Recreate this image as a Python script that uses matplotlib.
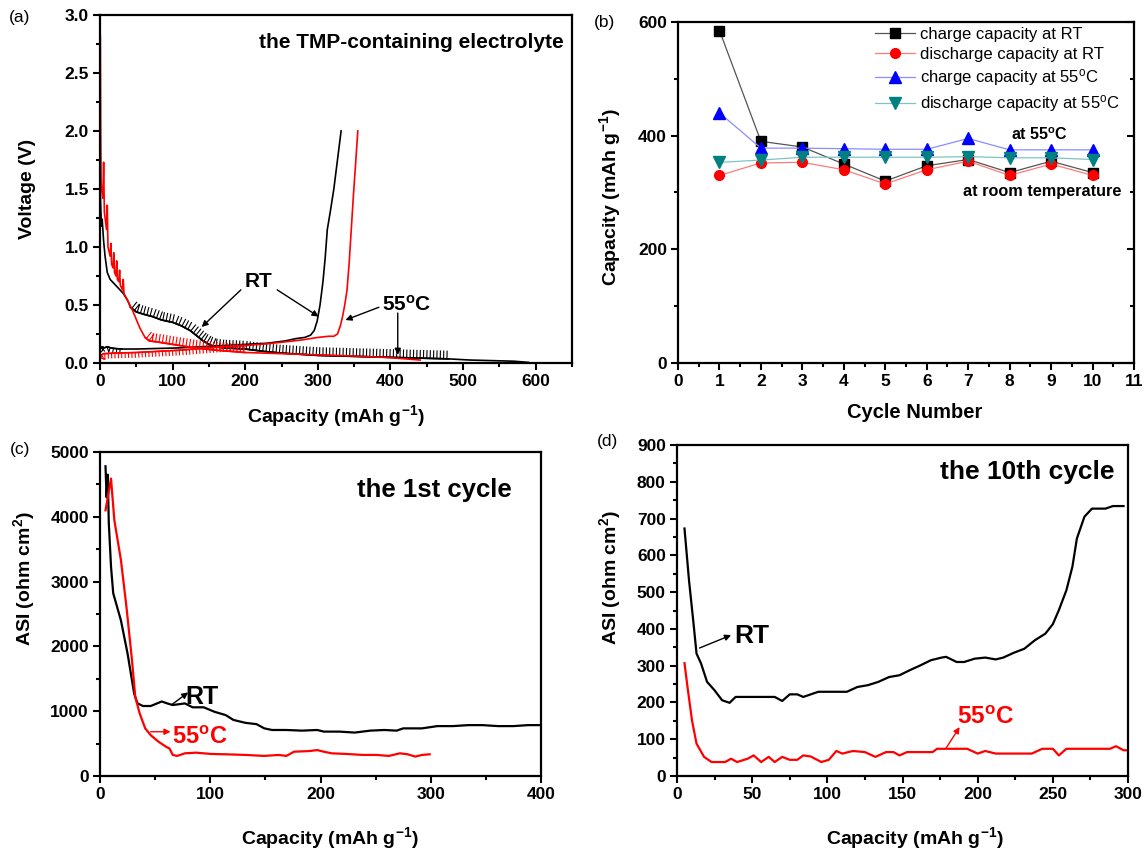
import numpy as np
import matplotlib
matplotlib.use("Agg")
import matplotlib.pyplot as plt
from matplotlib import patheffects as pe
from matplotlib.ticker import MultipleLocator

plt.rcParams['font.family'] = ['Liberation Sans', 'DejaVu Sans']
plt.rcParams['mathtext.fontset'] = 'custom'
plt.rcParams['mathtext.rm'] = 'Liberation Sans'
plt.rcParams['mathtext.bf'] = 'Liberation Sans:bold'
plt.rcParams['mathtext.it'] = 'Liberation Sans:italic'

# ---- (a) first-cycle voltage profiles ----
rt_dis_x = [0, 1, 2, 3, 5, 7, 10, 14, 20, 26, 32, 38, 42, 50, 60, 72, 85, 100, 112, 124,
            134, 142, 150, 158, 170, 185, 200, 225, 250, 275, 300, 330, 360, 390, 420,
            450, 480, 510, 540, 570, 590]
rt_dis_y = [1.57, 1.35, 1.18, 1.24, 1.05, 0.92, 0.78, 0.72, 0.68, 0.64, 0.60, 0.54, 0.48,
            0.44, 0.42, 0.40, 0.37, 0.35, 0.32, 0.28, 0.23, 0.19, 0.16, 0.14, 0.13, 0.125,
            0.12, 0.10, 0.085, 0.075, 0.065, 0.06, 0.055, 0.05, 0.045, 0.04, 0.035, 0.025,
            0.02, 0.015, 0.005]
rt_chg_x = [0, 3, 6, 10, 15, 20, 30, 50, 80, 110, 140, 170, 200, 230, 255, 270, 282, 290,
            295, 299, 303, 307, 310, 313, 317, 322, 327, 332]
rt_chg_y = [0.12, 0.14, 0.13, 0.14, 0.13, 0.125, 0.12, 0.12, 0.125, 0.13, 0.14, 0.15, 0.16,
            0.17, 0.19, 0.21, 0.22, 0.24, 0.28, 0.36, 0.50, 0.70, 0.90, 1.15, 1.30, 1.50,
            1.75, 2.0]
ht_dis_x = [0.5, 1, 1.5, 2, 4, 5, 6, 9, 10, 11, 14, 15, 16, 18, 19, 20, 22, 23, 24, 26, 27,
            28, 31, 32, 33, 37, 45, 55, 62, 68, 80, 100, 130, 160, 200, 250, 300, 350, 400,
            441]
ht_dis_y = [2.82, 2.0, 1.6, 1.5, 1.42, 1.73, 1.30, 1.15, 1.36, 1.00, 0.92, 1.03, 0.85, 0.82,
            0.95, 0.78, 0.75, 0.88, 0.72, 0.70, 0.80, 0.67, 0.63, 0.72, 0.60, 0.55, 0.45,
            0.30, 0.22, 0.19, 0.18, 0.16, 0.13, 0.11, 0.09, 0.08, 0.07, 0.06, 0.045, 0.025]
ht_chg_x = [0, 2, 5, 20, 50, 80, 110, 140, 170, 200, 230, 260, 280, 300, 315, 322, 327, 331,
            334, 337, 340, 343, 346, 349, 352, 355]
ht_chg_y = [0.03, 0.07, 0.08, 0.085, 0.09, 0.10, 0.11, 0.125, 0.14, 0.15, 0.165, 0.185, 0.20,
            0.22, 0.23, 0.23, 0.25, 0.32, 0.40, 0.50, 0.62, 0.85, 1.15, 1.45, 1.72, 2.0]

# ---- (b) cycling ----
cycles = [1, 2, 3, 4, 5, 6, 7, 8, 9, 10]
chg_rt = [585, 390, 380, 350, 320, 347, 358, 335, 355, 335]
dis_rt = [330, 352, 353, 340, 315, 340, 355, 330, 350, 330]
chg_55 = [440, 378, 378, 377, 376, 376, 395, 375, 375, 375]
dis_55 = [353, 357, 362, 362, 362, 362, 363, 361, 361, 358]

# ---- (c) ASI, 1st cycle ----
asi1_rt_x = [5, 6, 7, 8, 10, 12, 19, 25, 31, 34, 39, 46, 56, 61, 66, 77, 84, 94, 104, 114,
             121, 132, 142, 149, 156, 169, 183, 197, 203, 217, 231, 245, 258, 269, 275,
             292, 306, 320, 334, 347, 361, 375, 388, 400]
asi1_rt_y = [4780, 4300, 4650, 3900, 3230, 2820, 2400, 1890, 1270, 1120, 1080, 1080, 1150,
             1120, 1095, 1120, 1060, 1060, 990, 940, 865, 820, 800, 735, 710, 710, 700, 710,
             685, 685, 670, 700, 710, 700, 735, 735, 770, 770, 785, 785, 770, 770, 785, 785]
asi1_55_x = [5, 10, 13, 19, 24, 29, 32, 36, 41, 46, 53, 60, 63, 66, 70, 77, 87, 101, 114,
             132, 149, 162, 169, 176, 190, 197, 203, 210, 224, 238, 251, 262, 272, 279,
             286, 292, 299]
asi1_55_y = [4100, 4590, 3950, 3330, 2610, 1790, 1220, 965, 735, 630, 530, 450, 425, 325,
             310, 350, 360, 340, 335, 325, 310, 325, 310, 375, 385, 400, 375, 350, 340, 325,
             325, 310, 350, 335, 300, 325, 335]

# ---- (d) ASI, 10th cycle ----
asi10_rt_x = [5, 8, 11, 13, 16, 20, 25, 30, 35, 39, 61, 65, 70, 75, 80, 84, 94, 108, 113,
              120, 127, 134, 141, 148, 155, 162, 169, 176, 179, 186, 191, 198, 205, 212,
              217, 224, 231, 238, 245, 250, 254, 259, 263, 266, 271, 276, 285, 290, 297]
asi10_rt_y = [673, 532, 415, 333, 306, 256, 233, 206, 199, 215, 215, 215, 204, 222, 222,
              215, 229, 229, 229, 242, 247, 256, 269, 274, 288, 301, 315, 322, 324, 310,
              310, 319, 322, 317, 322, 335, 346, 369, 387, 413, 451, 505, 569, 646, 705,
              727, 727, 734, 734]
asi10_55_x = [5, 7, 10, 13, 18, 23, 32, 36, 40, 47, 51, 56, 61, 65, 70, 75, 80, 84, 89, 96,
              101, 106, 110, 117, 125, 132, 139, 144, 148, 153, 170, 173, 193, 200, 205,
              212, 236, 243, 250, 254, 259, 288, 292, 297, 300]
asi10_55_y = [307, 242, 151, 88, 52, 38, 38, 47, 38, 47, 56, 38, 52, 38, 52, 44, 44, 56, 53,
              38, 44, 68, 61, 68, 65, 52, 65, 65, 56, 65, 65, 74, 74, 61, 68, 61, 61, 74, 74,
              56, 74, 74, 81, 70, 70]

DEG_B = r'55$^{\mathbf{o}}$C'
DEG = r'55$^{\rm o}$C'
CAP_LABEL = r'Capacity (mAh g$^{\mathbf{-1}}$)'
ASI_LABEL = r'ASI (ohm cm$^{\mathbf{2}}$)'


def style_axes(ax, tick_size=12.5):
    for s in ax.spines.values():
        s.set_linewidth(1.6)
    ax.tick_params(which='both', direction='out', width=1.5, top=False, right=False)
    ax.tick_params(which='major', length=5, labelsize=tick_size, pad=3)
    ax.tick_params(which='minor', length=3)
    for lab in ax.get_xticklabels() + ax.get_yticklabels():
        lab.set_fontweight('bold')


def arrow(ax, start, end, color='black', lw=1.0, **kw):
    ax.annotate('', xy=end, xytext=start,
                arrowprops=dict(arrowstyle='-|>', color=color, lw=lw,
                                mutation_scale=9, shrinkA=0, shrinkB=0), **kw)


fig = plt.figure(figsize=(11.48, 8.52), dpi=100)

# ---------- (a) ----------
ax = fig.add_axes([0.0871, 0.574, 0.4112, 0.4085])
ticks_up = [pe.withTickedStroke(angle=90, spacing=2.4, length=2.3, linewidth=0.8)]
ticks_dn = [pe.withTickedStroke(angle=-90, spacing=2.4, length=1.4, linewidth=0.8)]

x, y = np.array(rt_dis_x), np.array(rt_dis_y)
ax.plot(x, y, color='black', lw=1.2)
m = (x >= 40) & (x <= 480)
ax.plot(x[m], y[m], color='black', lw=1.2, path_effects=ticks_up)
x, y = np.array(rt_chg_x), np.array(rt_chg_y)
ax.plot(x, y, color='black', lw=1.2)
m = x <= 30
ax.plot(x[m], y[m], color='black', lw=1.0, path_effects=ticks_dn)

x, y = np.array(ht_dis_x), np.array(ht_dis_y)
ax.plot(x, y, color='red', lw=1.2)
m = (x >= 62) & (x <= 220)
ax.plot(x[m], y[m], color='red', lw=1.2, path_effects=ticks_up)
x, y = np.array(ht_chg_x), np.array(ht_chg_y)
ax.plot(x, y, color='red', lw=1.2)
m = x <= 220
ax.plot(x[m], y[m], color='red', lw=1.0, path_effects=ticks_dn)

ax.set_xlim(0, 650)
ax.set_ylim(0, 3.0)
ax.xaxis.set_major_locator(MultipleLocator(100))
ax.xaxis.set_minor_locator(MultipleLocator(50))
ax.yaxis.set_major_locator(MultipleLocator(0.5))
ax.yaxis.set_minor_locator(MultipleLocator(0.25))
ax.yaxis.set_major_formatter('{x:.1f}')
style_axes(ax)
ax.set_xlabel(CAP_LABEL, fontsize=14, fontweight='bold')
ax.set_ylabel('Voltage (V)', fontsize=14, fontweight='bold')
ax.xaxis.set_label_coords(0.5, -0.114)
ax.yaxis.set_label_coords(-0.136, 0.5)
ax.text(0.983, 0.92, 'the TMP-containing electrolyte', transform=ax.transAxes,
        ha='right', va='center', fontsize=15, fontweight='bold')
ax.text(218, 0.70, 'RT', ha='center', va='center', fontsize=15, fontweight='bold')
arrow(ax, (194, 0.63), (140, 0.31))
arrow(ax, (244, 0.63), (301, 0.40))
ax.text(423, 0.50, DEG_B, ha='center', va='center', fontsize=15, fontweight='bold')
arrow(ax, (384, 0.48), (338, 0.37))
arrow(ax, (410, 0.43), (410, 0.07))

# ---------- (b) ----------
ax = fig.add_axes([0.5906, 0.574, 0.3972, 0.4002])
ax.plot(cycles, chg_rt, color='#555555', lw=0.9, marker='s', ms=6.5,
        mfc='black', mec='black', label='charge capacity at RT')
ax.plot(cycles, dis_rt, color='#ff7a7a', lw=0.9, marker='o', ms=7,
        mfc='red', mec='red', label='discharge capacity at RT')
ax.plot(cycles, chg_55, color='#8c8cff', lw=0.9, marker='^', ms=8,
        mfc='blue', mec='blue', label='charge capacity at ' + DEG)
ax.plot(cycles, dis_55, color='#7fc4c4', lw=0.9, marker='v', ms=8,
        mfc='#008080', mec='#008080', label='discharge capacity at ' + DEG)
ax.set_xlim(0, 11)
ax.set_ylim(0, 600)
ax.xaxis.set_major_locator(MultipleLocator(1))
ax.xaxis.set_minor_locator(MultipleLocator(0.5))
ax.yaxis.set_major_locator(MultipleLocator(200))
ax.yaxis.set_minor_locator(MultipleLocator(100))
style_axes(ax)
ax.tick_params(which='both', right=True, labelright=False)
for t in ax.yaxis.get_major_ticks() + ax.yaxis.get_minor_ticks():
    t.tick2line.set_marker(matplotlib.lines.TICKLEFT)
ax.set_xlabel('Cycle Number', fontsize=14.5, fontweight='bold')
ax.set_ylabel(CAP_LABEL, fontsize=14, fontweight='bold')
ax.xaxis.set_label_coords(0.52, -0.117)
ax.yaxis.set_label_coords(-0.12, 0.487)
ax.legend(loc='upper left', bbox_to_anchor=(0.432, 0.985), frameon=False, fontsize=12,
          handlelength=2.4, handletextpad=0.3, labelspacing=0.3, borderpad=0,
          borderaxespad=0, numpoints=1)
ax.text(8.73, 401, 'at ' + DEG_B, ha='center', va='center', fontsize=11.5, fontweight='bold')
ax.text(8.78, 301, 'at room temperature', ha='center', va='center', fontsize=11.7,
        fontweight='bold')

# ---------- (c) ----------
ax = fig.add_axes([0.0871, 0.0892, 0.3842, 0.3803])
ax.plot(asi1_rt_x, asi1_rt_y, color='black', lw=1.6)
ax.plot(asi1_55_x, asi1_55_y, color='red', lw=1.6)
ax.set_xlim(0, 400)
ax.set_ylim(0, 5000)
ax.xaxis.set_major_locator(MultipleLocator(100))
ax.xaxis.set_minor_locator(MultipleLocator(50))
ax.yaxis.set_major_locator(MultipleLocator(1000))
ax.yaxis.set_minor_locator(MultipleLocator(500))
style_axes(ax)
ax.set_xlabel(CAP_LABEL, fontsize=14, fontweight='bold')
ax.set_ylabel(ASI_LABEL, fontsize=14, fontweight='bold')
ax.xaxis.set_label_coords(0.52, -0.152)
ax.yaxis.set_label_coords(-0.143, 0.61)
ax.text(0.758, 0.883, 'the 1st cycle', transform=ax.transAxes, ha='center', va='center',
        fontsize=18.5, fontweight='bold')
ax.text(0.231, 0.244, 'RT', transform=ax.transAxes, ha='center', va='center',
        fontsize=18, fontweight='bold')
arrow(ax, (65, 1100), (80, 1290))
ax.text(0.226, 0.12, DEG_B, transform=ax.transAxes, ha='center', va='center',
        fontsize=17, fontweight='bold', color='red')
arrow(ax, (46, 683), (64, 683), color='red')

# ---------- (d) ----------
ax = fig.add_axes([0.5897, 0.0892, 0.3929, 0.3885])
ax.plot(asi10_rt_x, asi10_rt_y, color='black', lw=1.6)
ax.plot(asi10_55_x, asi10_55_y, color='red', lw=1.6)
ax.set_xlim(0, 300)
ax.set_ylim(0, 900)
ax.xaxis.set_major_locator(MultipleLocator(50))
ax.xaxis.set_minor_locator(MultipleLocator(25))
ax.yaxis.set_major_locator(MultipleLocator(100))
ax.yaxis.set_minor_locator(MultipleLocator(50))
style_axes(ax)
ax.set_xlabel(CAP_LABEL, fontsize=14, fontweight='bold')
ax.set_ylabel(ASI_LABEL, fontsize=14, fontweight='bold')
ax.xaxis.set_label_coords(0.528, -0.149)
ax.yaxis.set_label_coords(-0.12, 0.60)
ax.text(0.776, 0.918, 'the 10th cycle', transform=ax.transAxes, ha='center', va='center',
        fontsize=19, fontweight='bold')
ax.text(0.166, 0.423, 'RT', transform=ax.transAxes, ha='center', va='center',
        fontsize=19, fontweight='bold')
arrow(ax, (15, 348), (36, 383))
ax.text(0.685, 0.178, DEG_B, transform=ax.transAxes, ha='center', va='center',
        fontsize=17.5, fontweight='bold', color='red')
arrow(ax, (179, 76), (188, 133), color='red')

# panel letters
for lbl, px, py in [('(a)', 0.0174, 0.979), ('(b)', 0.527, 0.974),
                    ('(c)', 0.0174, 0.473), ('(d)', 0.529, 0.482)]:
    fig.text(px, py, lbl, ha='center', va='center', fontsize=12.5)

fig.savefig('out.png', dpi=100)
